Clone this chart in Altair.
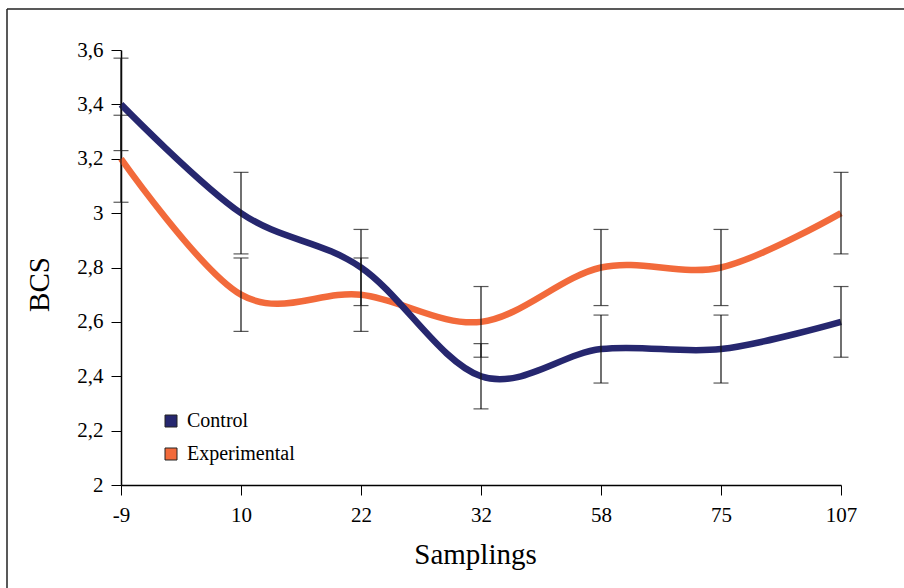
import altair as alt
import pandas as pd

# Sampling days (ordinal categories) and mean body condition score per group
samplings = ["-9", "10", "22", "32", "58", "75", "107"]
control = [3.4, 3.0, 2.8, 2.4, 2.5, 2.5, 2.6]
experimental = [3.2, 2.7, 2.7, 2.6, 2.8, 2.8, 3.0]
# Half-width of the error bars
control_err = [0.17, 0.15, 0.14, 0.12, 0.125, 0.125, 0.13]
experimental_err = [0.16, 0.135, 0.135, 0.13, 0.14, 0.14, 0.15]

groups = ["Control", "Experimental"]
colors = ["#26276F", "#F26A3B"]
y_ticks = [2.0, 2.2, 2.4, 2.6, 2.8, 3.0, 3.2, 3.4, 3.6]

rows = []
for name, vals, errs in [(groups[0], control, control_err),
                         (groups[1], experimental, experimental_err)]:
    for s, v, e in zip(samplings, vals, errs):
        rows.append({"sampling": s, "group": name, "bcs": v, "err": e})
df = pd.DataFrame(rows)

FONT = "Liberation Serif"
INK = "#111111"

color_scale = alt.Scale(domain=groups, range=colors)

x_enc = alt.X(
    "sampling:O",
    sort=samplings,
    scale=alt.Scale(type="point", padding=0),
    axis=alt.Axis(
        title="Samplings",
        labelAngle=0,
        labelPadding=9,
        tickSize=10,
        titleX=354,
        titleY=78,
        titleBaseline="alphabetic",
        titleAnchor="start",
        titleAlign="center",
    ),
)
y_scale = alt.Scale(domain=[2, 3.6], nice=False, zero=False)
y_axis = alt.Axis(
    title="BCS",
    values=y_ticks,
    labelExpr="replace(format(datum.value, '.2~f'), '.', ',')",
    labelPadding=8,
    tickSize=10,
    grid=False,
    titleX=-73,
    titleY=234,
    titleAngle=-90,
    titleBaseline="alphabetic",
    titleAlign="center",
)

base = alt.Chart(df)

lines = []
for g in ["Experimental", "Control"]:
    lines.append(
        base.transform_filter(alt.datum.group == g)
        .mark_line(interpolate="cardinal", strokeWidth=6.5)
        .encode(
            x=x_enc,
            y=alt.Y("bcs:Q", scale=y_scale, axis=y_axis),
            color=alt.Color("group:N", scale=color_scale, legend=None),
        )
    )

# Invisible squares that carry the colour legend
legend_layer = base.mark_point(shape="square", filled=True, opacity=0).encode(
    x=x_enc,
    y=alt.Y("bcs:Q", scale=y_scale),
    color=alt.Color(
        "group:N",
        scale=color_scale,
        legend=alt.Legend(
            title=None,
            orient="none",
            legendX=40,
            legendY=361,
            symbolType="square",
            symbolSize=144,
            symbolOpacity=1,
            symbolStrokeColor="#222222",
            symbolStrokeWidth=1,
            labelFont=FONT,
            labelFontSize=20,
            labelColor="black",
            labelOffset=6,
            rowPadding=13,
        ),
    ),
)

err = base.transform_calculate(
    lo="datum.bcs - datum.err", hi="datum.bcs + datum.err"
)
err_rule = err.mark_rule(color=INK, strokeWidth=1.2).encode(
    x=x_enc, y=alt.Y("lo:Q", scale=y_scale), y2="hi:Q"
)
cap_lo = err.mark_tick(color=INK, orient="horizontal", size=15, thickness=1.2).encode(
    x=x_enc, y=alt.Y("lo:Q", scale=y_scale)
)
cap_hi = err.mark_tick(color=INK, orient="horizontal", size=15, thickness=1.2).encode(
    x=x_enc, y=alt.Y("hi:Q", scale=y_scale)
)

# Outer frame (top and left edges)
one = alt.Chart(alt.Data(values=[{"k": 1}]))
frame_left = one.mark_rule(color="#222222", strokeWidth=1.5).encode(
    x=alt.value(-114), y=alt.value(-41), y2=alt.value(540)
)
frame_top = one.mark_rule(color="#222222", strokeWidth=1.5).encode(
    x=alt.value(-114), x2=alt.value(790), y=alt.value(-41)
)

chart = (
    alt.layer(frame_left, frame_top, *lines, legend_layer, err_rule, cap_lo, cap_hi)
    .resolve_legend(color="independent")
    .properties(
        width=720,
        height=435,
        autosize=alt.AutoSizeParams(type="none"),
        padding={"left": 121, "top": 50, "right": 63, "bottom": 103},
        background="white",
    )
    .configure_view(stroke=None)
    .configure_axis(
        labelFont=FONT,
        labelFontSize=21,
        labelColor="black",
        titleFont=FONT,
        titleFontSize=29,
        titleFontWeight="normal",
        titleColor="black",
        domainColor="black",
        domainWidth=1.5,
        tickColor="black",
        tickWidth=1,
    )
)

chart.save("out.html", embed_options={"renderer": "svg", "actions": False})
